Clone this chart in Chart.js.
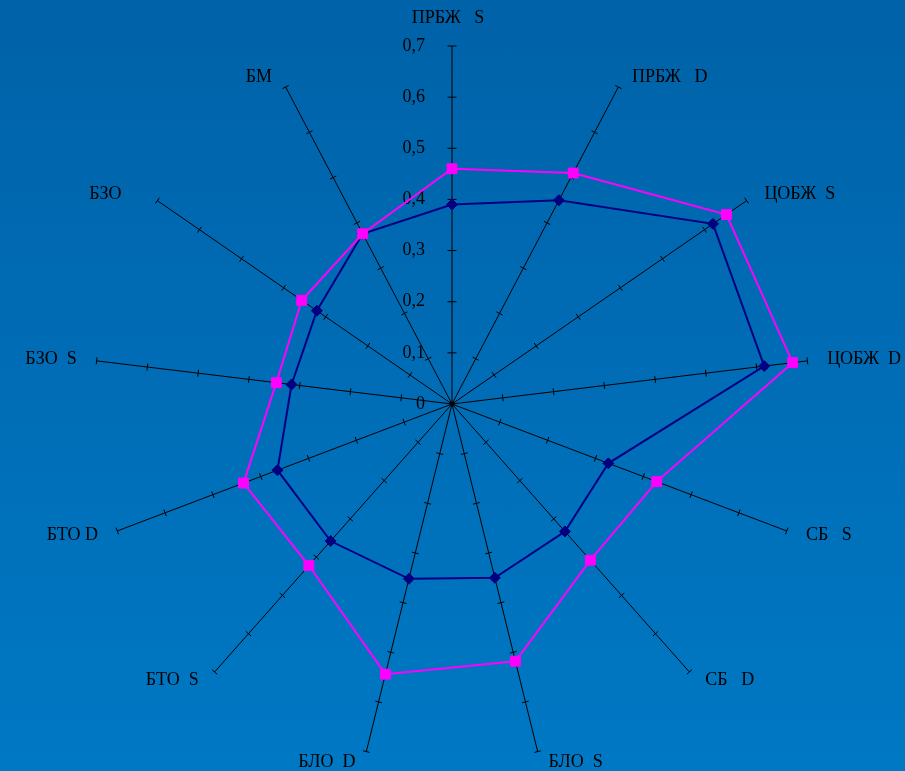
<!DOCTYPE html>
<html>
<head>
<meta charset="utf-8">
<script src="https://cdn.jsdelivr.net/npm/chart.js@4"></script>
<style>
  html, body { margin: 0; padding: 0; }
  body { width: 905px; height: 771px; background: linear-gradient(to bottom, #0062a8, #0078c4); overflow: hidden; }
  #wrap { position: relative; width: 905px; height: 771px; }
</style>
</head>
<body>
<div id="wrap"><canvas id="myChart"></canvas></div>
<script>
const axisLabels = ['ПРБЖ   S', 'ПРБЖ   D', 'ЦОБЖ  S', 'ЦОБЖ  D', 'СБ   S', 'СБ   D', 'БЛО  S', 'БЛО  D', 'БТО  S', 'БТО D', 'БЗО  S', 'БЗО    ', 'БМ'];
const seriesA = [0.39, 0.45, 0.62, 0.615, 0.327, 0.333, 0.35, 0.352, 0.358, 0.365, 0.316, 0.321, 0.376];
const seriesB = [0.46, 0.51, 0.652, 0.671, 0.428, 0.408, 0.518, 0.544, 0.422, 0.436, 0.346, 0.357, 0.376];
const tickValues = [0, 0.1, 0.2, 0.3, 0.4, 0.5, 0.6, 0.7];
const tickLabels = ['0', '0,1', '0,2', '0,3', '0,4', '0,5', '0,6', '0,7'];

const FONT = '18px "Liberation Serif", "Times New Roman", serif';

// tick marks on every axis, tick numbers on the top one, point labels
const radarDecor = {
    id: 'radarDecor',
    beforeDatasetsDraw(chart) {
        const s = chart.scales.r;
        const ctx = chart.ctx;
        const cx = s.xCenter, cy = s.yCenter;
        ctx.save();
        ctx.strokeStyle = '#000';
        ctx.lineWidth = 1;
        for (let i = 0; i < axisLabels.length; i++) {
            for (let k = 1; k < tickValues.length; k++) {
                const p = s.getPointPositionForValue(i, tickValues[k]);
                let dx = p.x - cx, dy = p.y - cy;
                const len = Math.hypot(dx, dy);
                dx /= len; dy /= len;
                const h = i === 0 ? 4.5 : 3.5;
                ctx.beginPath();
                ctx.moveTo(p.x - dy * h, p.y + dx * h);
                ctx.lineTo(p.x + dy * h, p.y - dx * h);
                ctx.stroke();
            }
        }
        ctx.fillStyle = '#000';
        ctx.beginPath();
        ctx.arc(cx, cy, 2.5, 0, Math.PI * 2);
        ctx.fill();

        ctx.font = FONT;
        ctx.textAlign = 'right';
        ctx.textBaseline = 'middle';
        tickValues.forEach((v, k) => {
            const p = s.getPointPositionForValue(0, v);
            ctx.fillText(tickLabels[k], cx - 27, p.y);
        });

        axisLabels.forEach((lab, i) => {
            const end = s.getPointPositionForValue(i, 0.7);
            const a = s.getIndexAngle(i);
            const sn = Math.sin(a), cs = Math.cos(a);
            if (Math.abs(sn) < 0.05) {
                ctx.textAlign = 'center';
                ctx.fillText(lab, end.x - 4, end.y - 28);
            } else {
                const off = 8 + 12 * Math.abs(sn);
                ctx.textAlign = sn > 0 ? 'left' : 'right';
                ctx.fillText(lab, end.x + Math.sign(sn) * off, end.y - cs * 11);
            }
        });
        ctx.restore();
    }
};

const data = {
    labels: axisLabels,
    datasets: [{
        label: 'A',
        data: seriesA,
        fill: false,
        borderColor: '#000080',
        backgroundColor: '#000080',
        borderWidth: 2,
        pointStyle: 'rectRot',
        pointRadius: 5.5,
        pointBorderWidth: 1,
        pointBorderColor: '#000080',
        pointBackgroundColor: '#000080',
        tension: 0,
        order: 2
    }, {
        label: 'B',
        data: seriesB,
        fill: false,
        borderColor: '#ff00ff',
        backgroundColor: '#ff00ff',
        borderWidth: 2,
        pointStyle: 'rect',
        pointRadius: 7,
        pointBorderWidth: 1,
        pointBorderColor: '#ff00ff',
        pointBackgroundColor: '#ff00ff',
        tension: 0,
        order: 1
    }]
};

const config = {
    type: 'radar',
    data: data,
    options: {
        responsive: true,
        maintainAspectRatio: false,
        animation: false,
        layout: { padding: { top: 46, bottom: 9, left: 0, right: 0 } },
        plugins: { legend: { display: false }, tooltip: { enabled: false } },
        scales: {
            r: {
                min: 0,
                max: 0.7,
                ticks: { display: false, stepSize: 0.1 },
                grid: { display: false },
                angleLines: { display: true, color: '#000', lineWidth: 1 },
                pointLabels: { display: false }
            }
        }
    },
    plugins: [radarDecor]
};

const myChart = new Chart(document.getElementById('myChart').getContext('2d'), config);
</script>
</body>
</html>
